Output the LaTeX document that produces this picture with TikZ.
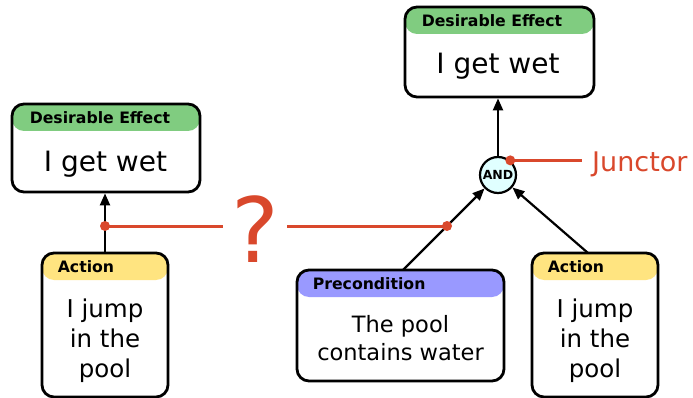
\documentclass[tikz,border=0pt]{standalone}
\usepackage{fontspec}
\setmainfont{DejaVu Sans}
\usetikzlibrary{arrows.meta,calc}
\definecolor{hdgreen}{RGB}{128,204,128}
\definecolor{hdyellow}{RGB}{255,228,128}
\definecolor{hdblue}{RGB}{153,153,255}
\definecolor{jred}{RGB}{217,72,44}
\definecolor{andfill}{RGB}{224,255,255}
\begin{document}
\begin{tikzpicture}[x=1pt,y=-1pt,
  box/.style={draw, line width=2.8pt, rounded corners=12pt, fill=white, inner sep=0pt,
    path picture={\fill[#1] (path picture bounding box.north west) rectangle ([yshift=-27pt]path picture bounding box.north east);}},
  hd/.style={anchor=base west, inner sep=0pt, font=\fontsize{15.7}{18}\selectfont\bfseries},
  big/.style={anchor=base, inner sep=0pt, font=\fontsize{28}{32}\selectfont},
  body/.style={anchor=base, inner sep=0pt, font=\fontsize{24.5}{28}\selectfont},
  pbody/.style={anchor=base, inner sep=0pt, font=\fontsize{22.5}{26}\selectfont},
  arr/.style={line width=2.2pt, -{Triangle[length=12pt,width=10pt]}},
  rline/.style={draw=jred, line width=3pt},
  rdot/.style={fill=jred},
  junc/.style={draw, line width=2.2pt, circle, fill=andfill, minimum size=36pt, inner sep=0pt, font=\fontsize{12.5}{13}\selectfont\bfseries}
]
\useasboundingbox (0,0) rectangle (693,398);

% boxes
\node[box=hdgreen, minimum width=189pt, minimum height=90pt] (deR) at (499.5,52) {};
\node[box=hdgreen, minimum width=188pt, minimum height=88pt] (deL) at (106,148) {};
\node[box=hdyellow, minimum width=126pt, minimum height=144pt] (aL) at (105,325) {};
\node[box=hdblue, minimum width=207pt, minimum height=111pt] (pre) at (400.5,325.5) {};
\node[box=hdyellow, minimum width=126pt, minimum height=144pt] (aR) at (595,325) {};
\node[junc] (and) at (498,175) {AND};

% header texts
\node[hd] (hdeR) at ($(deR.north west)+(18,20.5)$) {Desirable Effect};
\node[hd] (hdeL) at ($(deL.north west)+(19,20.5)$) {Desirable Effect};
\node[hd] (haL) at ($(aL.north west)+(17,20.5)$) {Action};
\node[hd] (hpre) at ($(pre.north west)+(17,21)$) {Precondition};
\node[hd] (haR) at ($(aR.north west)+(17,20.5)$) {Action};

% body texts
\node[big] (tdeR) at (498,74) {I get wet};
\node[big] (tdeL) at (105.5,172) {I get wet};
\node[body] (taL1) at (105,317) {I jump};
\node[body] (taL2) at (105,347) {in the};
\node[body] (taL3) at (105,377) {pool};
\node[pbody] (tpre1) at (400.5,332) {The pool};
\node[pbody] (tpre2) at (400.5,360) {contains water};
\node[body] (taR1) at (595,317) {I jump};
\node[body] (taR2) at (595,347) {in the};
\node[body] (taR3) at (595,377) {pool};

% connectors
\coordinate (p1) at (403,270);
\coordinate (p2) at (588,253);
\draw[arr] (aL.north) -- (aL.north |- deL.south);
\draw[arr] (and.north) -- (and.north |- deR.south);
\draw[arr] (p1) -- (and);
\draw[arr] (p2) -- (and);

% question mark link
\node[anchor=base, inner ysep=0pt, inner xsep=8pt, text=jred, font=\fontsize{90}{100}\selectfont] (q) at (255,262) {?};
\coordinate (d1) at (aL.north |- 0,226);
\coordinate (d2) at ($(p1)!{44/95}!(and.center)$);
\draw[rline] (d1) -- (q.west |- d1);
\draw[rline] (q.east |- d2) -- (d2);
\fill[rdot] (d1) circle (5pt);
\fill[rdot] (d2) circle (5pt);

% junctor label
\node[anchor=base west, inner ysep=0pt, inner xsep=10pt, text=jred, font=\fontsize{27}{32}\selectfont] (j) at (582,172) {Junctor};
\coordinate (d3) at (and.50);
\draw[rline] (d3) -- (j.west |- d3);
\fill[rdot] (d3) circle (5pt);
\end{tikzpicture}
\end{document}
